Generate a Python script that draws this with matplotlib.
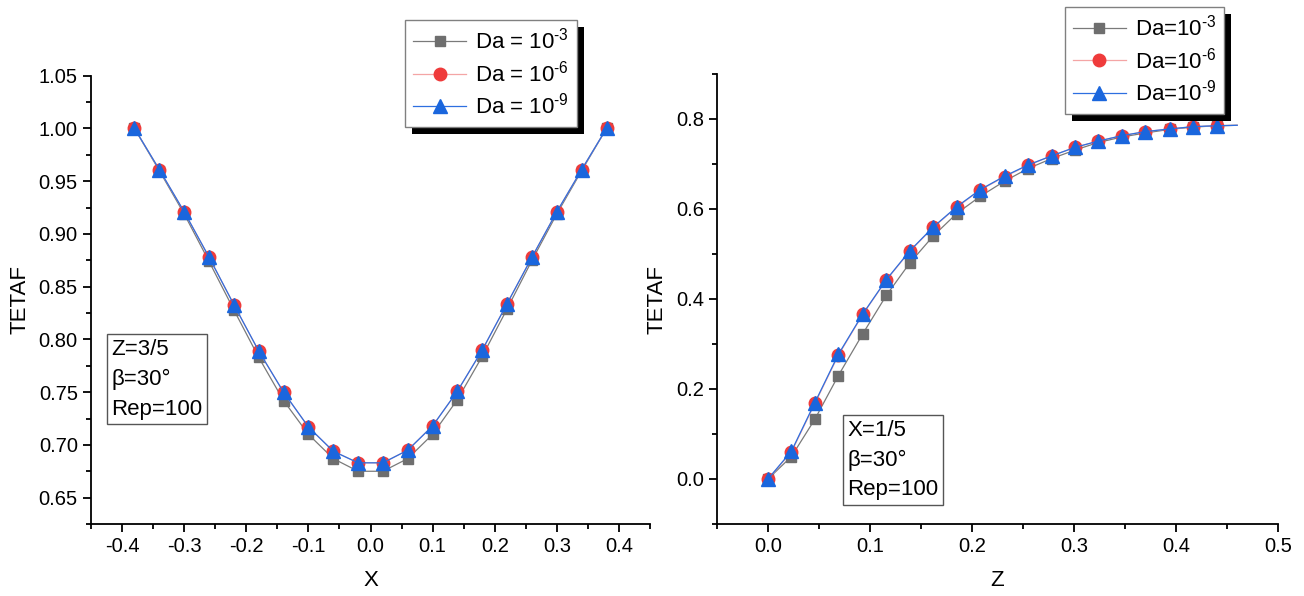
import matplotlib.pyplot as plt
from matplotlib.patches import Rectangle
from matplotlib.transforms import IdentityTransform
from matplotlib.ticker import MultipleLocator

plt.rcParams['font.family'] = ['Liberation Sans', 'DejaVu Sans']
plt.rcParams['mathtext.fontset'] = 'custom'
plt.rcParams['mathtext.rm'] = 'Liberation Sans'
plt.rcParams['mathtext.it'] = 'Liberation Sans'
plt.rcParams['mathtext.bf'] = 'Liberation Sans'

# left panel: TETAF vs X at Z=3/5
x_vals = [-0.38, -0.34, -0.30, -0.26, -0.22, -0.18, -0.14, -0.10, -0.06, -0.02,
          0.02, 0.06, 0.10, 0.14, 0.18, 0.22, 0.26, 0.30, 0.34, 0.38]
tx_da3 = [1.000, 0.960, 0.919, 0.874, 0.828, 0.783, 0.742, 0.710, 0.687, 0.675,
          0.675, 0.687, 0.710, 0.743, 0.784, 0.829, 0.875, 0.919, 0.960, 1.000]
tx_da6 = [1.000, 0.961, 0.921, 0.878, 0.833, 0.789, 0.750, 0.717, 0.694, 0.683,
          0.683, 0.695, 0.718, 0.751, 0.790, 0.834, 0.878, 0.921, 0.961, 1.000]
tx_da9 = [1.000, 0.961, 0.921, 0.878, 0.833, 0.789, 0.750, 0.717, 0.694, 0.683,
          0.683, 0.695, 0.718, 0.751, 0.790, 0.834, 0.878, 0.921, 0.961, 1.000]

# right panel: TETAF vs Z at X=1/5 (last point has no marker)
z_vals = [0.0, 0.023, 0.046, 0.069, 0.093, 0.116, 0.139, 0.162, 0.185, 0.208,
          0.232, 0.255, 0.278, 0.301, 0.324, 0.347, 0.370, 0.394, 0.417, 0.440, 0.460]
tz_da3 = [0.0, 0.050, 0.133, 0.230, 0.323, 0.408, 0.480, 0.540, 0.590, 0.628,
          0.662, 0.690, 0.712, 0.731, 0.748, 0.760, 0.769, 0.777, 0.782, 0.785, 0.786]
tz_da6 = [0.0, 0.060, 0.168, 0.275, 0.366, 0.442, 0.506, 0.559, 0.604, 0.642,
          0.672, 0.697, 0.718, 0.737, 0.751, 0.763, 0.772, 0.778, 0.783, 0.785, 0.786]
tz_da9 = [0.0, 0.062, 0.170, 0.277, 0.367, 0.443, 0.507, 0.560, 0.605, 0.643,
          0.673, 0.698, 0.718, 0.737, 0.751, 0.763, 0.772, 0.778, 0.783, 0.785, 0.786]

styles = [
    dict(color='#7a7a7a', marker='s', mfc='#6e6e6e', mec='#6e6e6e', ms=7, lw=0.9),
    dict(color='#f4a5a5', marker='o', mfc='#ef3b3b', mec='#ef3b3b', ms=9, lw=0.9),
    dict(color='#2d6fe0', marker='^', mfc='#1a66dd', mec='#1a66dd', ms=10, lw=0.9),
]

fig = plt.figure(figsize=(13.04, 5.96), dpi=100)
ax1 = fig.add_axes([91 / 1304, 72 / 596, 559 / 1304, 448.3 / 596])
ax2 = fig.add_axes([717 / 1304, 72 / 596, 561 / 1304, 450 / 596])


def style_axes(ax):
    for s in ['top', 'right']:
        ax.spines[s].set_visible(False)
    for s in ['left', 'bottom']:
        ax.spines[s].set_linewidth(1.3)
    ax.tick_params(which='both', direction='out', width=1.3, labelsize=14.5)
    ax.tick_params(which='major', length=6)
    ax.tick_params(which='minor', length=3.5)


def add_legend(ax, labels, anchor):
    handles = ax.lines[:3]
    leg = ax.legend(handles, labels, loc='upper left', bbox_to_anchor=anchor,
                    borderaxespad=0, fontsize=16, handlelength=2.4,
                    handletextpad=0.4, labelspacing=0.3, borderpad=0.35,
                    fancybox=False, framealpha=1, edgecolor='#808080')
    leg.get_frame().set_linewidth(1.0)
    fig.canvas.draw()
    bb = leg.get_window_extent()
    shadow = Rectangle((bb.x0 + 7, bb.y0 - 7), bb.width, bb.height,
                       transform=IdentityTransform(), facecolor='black',
                       edgecolor='none', zorder=4.9, clip_on=False)
    ax.add_patch(shadow)
    leg.set_zorder(5)


def da_label(exp, sep):
    return 'Da' + sep + '=' + sep + '10$^{\\text{-' + exp + '}}$'


# left panel
for ys, st in zip([tx_da3, tx_da6, tx_da9], styles):
    ax1.plot(x_vals, ys, **st)
ax1.set_xlim(-0.45, 0.45)
ax1.set_ylim(0.625, 1.05)
ax1.xaxis.set_major_locator(MultipleLocator(0.1))
ax1.xaxis.set_minor_locator(MultipleLocator(0.05))
ax1.yaxis.set_major_locator(MultipleLocator(0.05))
ax1.yaxis.set_minor_locator(MultipleLocator(0.025))
ax1.xaxis.set_major_formatter(lambda v, p: f'{v:.1f}')
ax1.yaxis.set_major_formatter(lambda v, p: f'{v:.2f}')
style_axes(ax1)
ax1.set_xlabel('X', fontsize=16, labelpad=10)
ax1.set_ylabel('TETAF', fontsize=16, labelpad=6)
ax1.text(0.036, 0.413, 'Z=3/5\nβ=30°\nRep=100', transform=ax1.transAxes,
         fontsize=16, va='top', ha='left', linespacing=1.55,
         bbox=dict(boxstyle='square,pad=0.2', fc='white', ec='#555555', lw=1.0))
add_legend(ax1, [da_label(e, ' ') for e in ['3', '6', '9']], (0.562, 1.124))

# right panel
for ys, st in zip([tz_da3, tz_da6, tz_da9], styles):
    ax2.plot(z_vals, ys, markevery=list(range(len(z_vals) - 1)), **st)
ax2.set_xlim(-0.05, 0.5)
ax2.set_ylim(-0.1, 0.9)
ax2.xaxis.set_major_locator(MultipleLocator(0.1))
ax2.xaxis.set_minor_locator(MultipleLocator(0.05))
ax2.yaxis.set_major_locator(MultipleLocator(0.2))
ax2.yaxis.set_minor_locator(MultipleLocator(0.1))
ax2.xaxis.set_major_formatter(lambda v, p: f'{v:.1f}')
ax2.yaxis.set_major_formatter(lambda v, p: f'{v:.1f}')
style_axes(ax2)
ax2.set_xlabel('Z', fontsize=16, labelpad=10)
ax2.set_ylabel('TETAF', fontsize=16, labelpad=6)
ax2.text(0.232, 0.232, 'X=1/5\nβ=30°\nRep=100', transform=ax2.transAxes,
         fontsize=16, va='top', ha='left', linespacing=1.55,
         bbox=dict(boxstyle='square,pad=0.2', fc='white', ec='#555555', lw=1.0))
add_legend(ax2, [da_label(e, '') for e in ['3', '6', '9']], (0.62, 1.149))

fig.savefig('out.png', dpi=100)
